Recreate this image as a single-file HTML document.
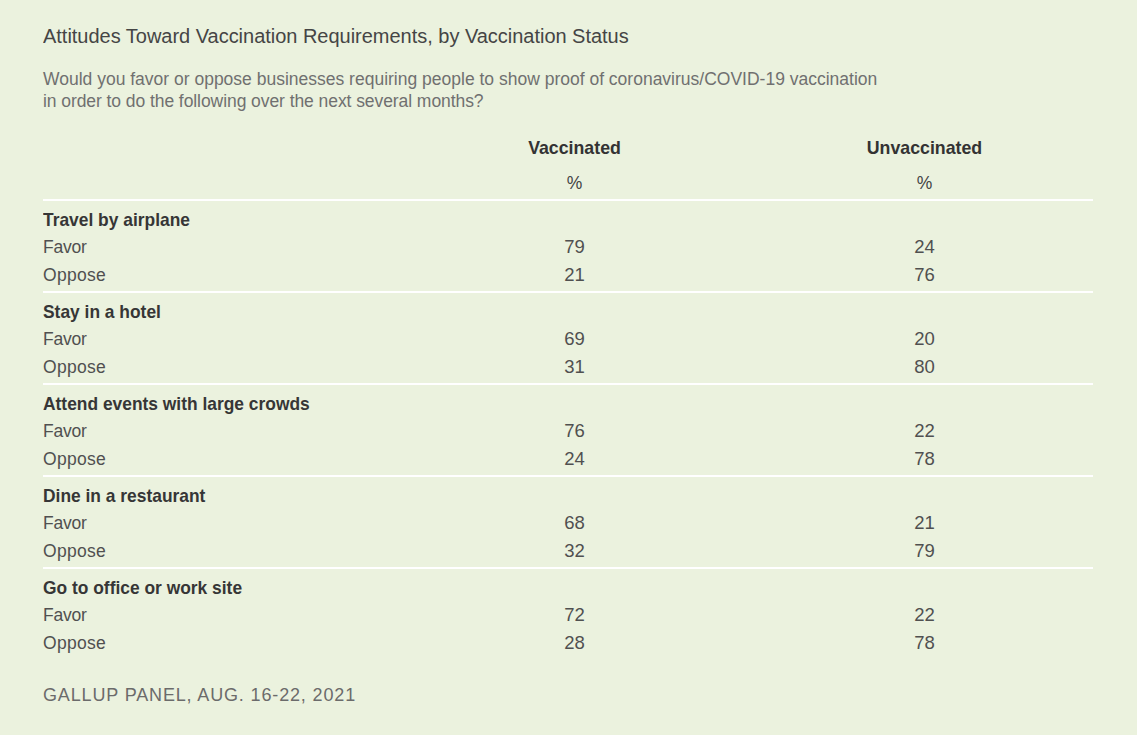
<!DOCTYPE html><html><head><meta charset="utf-8"><style>
html,body{margin:0;padding:0;background:#ebf2de;width:1137px;height:735px;overflow:hidden;}
body{position:relative;font-family:"Liberation Sans", sans-serif;}
.t{position:absolute;white-space:nowrap;}
.ln{position:absolute;left:43px;width:1050px;height:2px;background:#ffffff;}
</style></head><body>
<div class="t" style="left:43px;top:26.07px;font-size:20px;line-height:20px;color:#454545;font-weight:normal;letter-spacing:-0.02px;transform:scaleY(1.05);transform-origin:0 16.93px;">Attitudes Toward Vaccination Requirements, by Vaccination Status</div>
<div class="t" style="left:43px;top:71.18px;font-size:17.5px;line-height:17.5px;color:#707070;font-weight:normal;letter-spacing:0px;">Would you favor or oppose businesses requiring people to show proof of coronavirus/COVID-19 vaccination</div>
<div class="t" style="left:43px;top:93.18px;font-size:17.5px;line-height:17.5px;color:#707070;font-weight:normal;letter-spacing:-0.07px;">in order to do the following over the next several months?</div>
<div class="t" style="left:274.5px;width:600px;text-align:center;top:139.97px;font-size:17.75px;line-height:17.75px;color:#333333;font-weight:bold;letter-spacing:0px;">Vaccinated</div>
<div class="t" style="left:624.5px;width:600px;text-align:center;top:139.97px;font-size:17.75px;line-height:17.75px;color:#333333;font-weight:bold;letter-spacing:0px;">Unvaccinated</div>
<div class="t" style="left:274.5px;width:600px;text-align:center;top:174.68px;font-size:17.5px;line-height:17.5px;color:#444444;font-weight:normal;letter-spacing:0px;">%</div>
<div class="t" style="left:624.5px;width:600px;text-align:center;top:174.68px;font-size:17.5px;line-height:17.5px;color:#444444;font-weight:normal;letter-spacing:0px;">%</div>
<div class="ln" style="top:199px"></div>
<div class="t" style="left:43px;top:212.27px;font-size:17.4px;line-height:17.4px;color:#363636;font-weight:bold;letter-spacing:0px;transform:scaleY(1.06);transform-origin:0 14.73px;">Travel by airplane</div>
<div class="t" style="left:43px;top:239.18px;font-size:17.5px;line-height:17.5px;color:#505050;font-weight:normal;letter-spacing:-0.2px;">Favor</div>
<div class="t" style="left:43px;top:267.18px;font-size:17.5px;line-height:17.5px;color:#505050;font-weight:normal;letter-spacing:0.28px;">Oppose</div>
<div class="t" style="left:274.5px;width:600px;text-align:center;top:238.34px;font-size:18.5px;line-height:18.5px;color:#505050;font-weight:normal;letter-spacing:0px;">79</div>
<div class="t" style="left:624.5px;width:600px;text-align:center;top:238.34px;font-size:18.5px;line-height:18.5px;color:#505050;font-weight:normal;letter-spacing:0px;">24</div>
<div class="t" style="left:274.5px;width:600px;text-align:center;top:266.34px;font-size:18.5px;line-height:18.5px;color:#505050;font-weight:normal;letter-spacing:0px;">21</div>
<div class="t" style="left:624.5px;width:600px;text-align:center;top:266.34px;font-size:18.5px;line-height:18.5px;color:#505050;font-weight:normal;letter-spacing:0px;">76</div>
<div class="ln" style="top:291px"></div>
<div class="t" style="left:43px;top:304.27px;font-size:17.4px;line-height:17.4px;color:#363636;font-weight:bold;letter-spacing:0px;transform:scaleY(1.06);transform-origin:0 14.73px;">Stay in a hotel</div>
<div class="t" style="left:43px;top:331.18px;font-size:17.5px;line-height:17.5px;color:#505050;font-weight:normal;letter-spacing:-0.2px;">Favor</div>
<div class="t" style="left:43px;top:359.18px;font-size:17.5px;line-height:17.5px;color:#505050;font-weight:normal;letter-spacing:0.28px;">Oppose</div>
<div class="t" style="left:274.5px;width:600px;text-align:center;top:330.34px;font-size:18.5px;line-height:18.5px;color:#505050;font-weight:normal;letter-spacing:0px;">69</div>
<div class="t" style="left:624.5px;width:600px;text-align:center;top:330.34px;font-size:18.5px;line-height:18.5px;color:#505050;font-weight:normal;letter-spacing:0px;">20</div>
<div class="t" style="left:274.5px;width:600px;text-align:center;top:358.34px;font-size:18.5px;line-height:18.5px;color:#505050;font-weight:normal;letter-spacing:0px;">31</div>
<div class="t" style="left:624.5px;width:600px;text-align:center;top:358.34px;font-size:18.5px;line-height:18.5px;color:#505050;font-weight:normal;letter-spacing:0px;">80</div>
<div class="ln" style="top:383px"></div>
<div class="t" style="left:43px;top:396.27px;font-size:17.4px;line-height:17.4px;color:#363636;font-weight:bold;letter-spacing:0px;transform:scaleY(1.06);transform-origin:0 14.73px;">Attend events with large crowds</div>
<div class="t" style="left:43px;top:423.18px;font-size:17.5px;line-height:17.5px;color:#505050;font-weight:normal;letter-spacing:-0.2px;">Favor</div>
<div class="t" style="left:43px;top:451.18px;font-size:17.5px;line-height:17.5px;color:#505050;font-weight:normal;letter-spacing:0.28px;">Oppose</div>
<div class="t" style="left:274.5px;width:600px;text-align:center;top:422.34px;font-size:18.5px;line-height:18.5px;color:#505050;font-weight:normal;letter-spacing:0px;">76</div>
<div class="t" style="left:624.5px;width:600px;text-align:center;top:422.34px;font-size:18.5px;line-height:18.5px;color:#505050;font-weight:normal;letter-spacing:0px;">22</div>
<div class="t" style="left:274.5px;width:600px;text-align:center;top:450.34px;font-size:18.5px;line-height:18.5px;color:#505050;font-weight:normal;letter-spacing:0px;">24</div>
<div class="t" style="left:624.5px;width:600px;text-align:center;top:450.34px;font-size:18.5px;line-height:18.5px;color:#505050;font-weight:normal;letter-spacing:0px;">78</div>
<div class="ln" style="top:475px"></div>
<div class="t" style="left:43px;top:488.27px;font-size:17.4px;line-height:17.4px;color:#363636;font-weight:bold;letter-spacing:0px;transform:scaleY(1.06);transform-origin:0 14.73px;">Dine in a restaurant</div>
<div class="t" style="left:43px;top:515.18px;font-size:17.5px;line-height:17.5px;color:#505050;font-weight:normal;letter-spacing:-0.2px;">Favor</div>
<div class="t" style="left:43px;top:543.18px;font-size:17.5px;line-height:17.5px;color:#505050;font-weight:normal;letter-spacing:0.28px;">Oppose</div>
<div class="t" style="left:274.5px;width:600px;text-align:center;top:514.34px;font-size:18.5px;line-height:18.5px;color:#505050;font-weight:normal;letter-spacing:0px;">68</div>
<div class="t" style="left:624.5px;width:600px;text-align:center;top:514.34px;font-size:18.5px;line-height:18.5px;color:#505050;font-weight:normal;letter-spacing:0px;">21</div>
<div class="t" style="left:274.5px;width:600px;text-align:center;top:542.34px;font-size:18.5px;line-height:18.5px;color:#505050;font-weight:normal;letter-spacing:0px;">32</div>
<div class="t" style="left:624.5px;width:600px;text-align:center;top:542.34px;font-size:18.5px;line-height:18.5px;color:#505050;font-weight:normal;letter-spacing:0px;">79</div>
<div class="ln" style="top:567px"></div>
<div class="t" style="left:43px;top:580.27px;font-size:17.4px;line-height:17.4px;color:#363636;font-weight:bold;letter-spacing:0px;transform:scaleY(1.06);transform-origin:0 14.73px;">Go to office or work site</div>
<div class="t" style="left:43px;top:607.18px;font-size:17.5px;line-height:17.5px;color:#505050;font-weight:normal;letter-spacing:-0.2px;">Favor</div>
<div class="t" style="left:43px;top:635.18px;font-size:17.5px;line-height:17.5px;color:#505050;font-weight:normal;letter-spacing:0.28px;">Oppose</div>
<div class="t" style="left:274.5px;width:600px;text-align:center;top:606.34px;font-size:18.5px;line-height:18.5px;color:#505050;font-weight:normal;letter-spacing:0px;">72</div>
<div class="t" style="left:624.5px;width:600px;text-align:center;top:606.34px;font-size:18.5px;line-height:18.5px;color:#505050;font-weight:normal;letter-spacing:0px;">22</div>
<div class="t" style="left:274.5px;width:600px;text-align:center;top:634.34px;font-size:18.5px;line-height:18.5px;color:#505050;font-weight:normal;letter-spacing:0px;">28</div>
<div class="t" style="left:624.5px;width:600px;text-align:center;top:634.34px;font-size:18.5px;line-height:18.5px;color:#505050;font-weight:normal;letter-spacing:0px;">78</div>
<div class="t" style="left:43px;top:685.76px;font-size:18px;line-height:18px;color:#6b6b6b;font-weight:normal;letter-spacing:0.85px;">GALLUP PANEL, AUG. 16-22, 2021</div>
</body></html>
